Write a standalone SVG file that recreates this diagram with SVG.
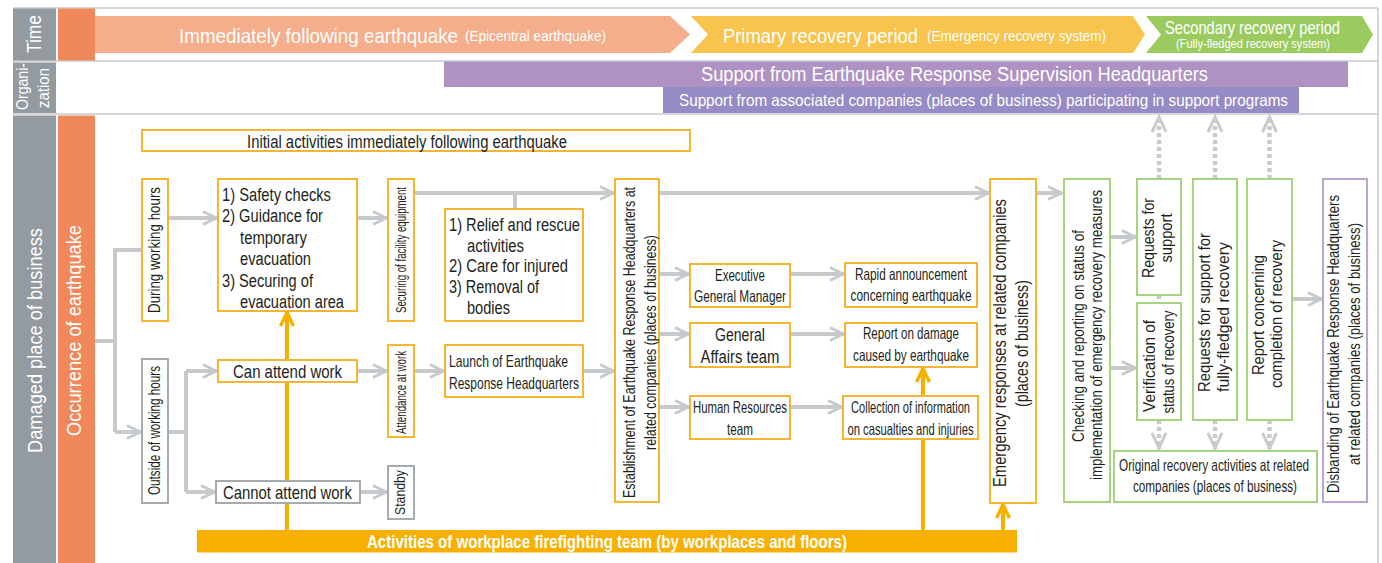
<svg xmlns="http://www.w3.org/2000/svg" width="1382" height="563" viewBox="0 0 1382 563">
<defs>
<style>
text{font-family:"Liberation Sans Narrow","Liberation Sans",Arial,sans-serif;fill:#231F20}
.w{fill:#fff}
.m{text-anchor:middle}
.bo{fill:#fff;stroke:#F6B634;stroke-width:2}
.bg{fill:#fff;stroke:#A8D37F;stroke-width:2}
.bx{fill:#fff;stroke:#A6ABAF;stroke-width:2}
.bp{fill:#fff;stroke:#BBA5D1;stroke-width:2}
.cg{fill:none;stroke:#C6CACD;stroke-width:4}
.ca{marker-end:url(#ag)}
.co{fill:none;stroke:#F7B000;stroke-width:4;marker-end:url(#ao)}
.cd{fill:none;stroke:#C8CCCF;stroke-width:4.5;stroke-dasharray:4 3}
.cda{marker-end:url(#ad)}
.frame{stroke:#C8CCCF;stroke-width:1.5;fill:none}
</style>
<marker id="ag" markerUnits="userSpaceOnUse" markerWidth="20" markerHeight="20" viewBox="-17 -10 20 20" refX="0" refY="0" orient="auto"><path d="M-14,-6.5L-0.8,0L-14,6.5" fill="none" stroke="#C6CACD" stroke-width="3"/></marker>
<marker id="ao" markerUnits="userSpaceOnUse" markerWidth="20" markerHeight="20" viewBox="-17 -10 20 20" refX="0" refY="0" orient="auto"><path d="M-14,-6.5L-0.8,0L-14,6.5" fill="none" stroke="#F7B000" stroke-width="3.5"/></marker>
<marker id="ad" markerUnits="userSpaceOnUse" markerWidth="22" markerHeight="22" viewBox="-19 -11 22 22" refX="0" refY="0" orient="auto"><path d="M-16,-7L-0.8,0L-16,7" fill="none" stroke="#C8CCCF" stroke-width="3"/></marker>
</defs>
<rect width="1382" height="563" fill="#fff"/>
<g id="frame">
<path class="frame" d="M13,8 H1378 M13,61 H1378 M13,114 H1378 M1378,8 V563"/>
</g>
<g id="time-row">
<rect x="13" y="8.5" width="43" height="52" fill="#939AA0"/>
<text class="w m" transform="translate(41,34) rotate(-90)" font-size="20" textLength="38" lengthAdjust="spacingAndGlyphs">Time</text>
<rect x="58" y="8.5" width="37" height="52" fill="#F0885B"/>
<polygon points="95,16 670,16 690,34.5 670,53 95,53" fill="#F5AE8B"/>
<text class="w"><tspan x="179" y="42.5" font-size="21" textLength="279" lengthAdjust="spacingAndGlyphs">Immediately following earthquake</tspan><tspan x="465" y="41" font-size="14" textLength="141" lengthAdjust="spacingAndGlyphs">(Epicentral earthquake)</tspan></text>
<polygon points="691,16 1133,16 1145,34.5 1133,53 691,53 708,34.5" fill="#F8C44D"/>
<text class="w"><tspan x="723" y="42.5" font-size="20" textLength="195" lengthAdjust="spacingAndGlyphs">Primary recovery period</tspan><tspan x="927" y="41" font-size="14" textLength="179" lengthAdjust="spacingAndGlyphs">(Emergency recovery system)</tspan></text>
<polygon points="1146,16 1362,16 1373,34.5 1362,53 1146,53 1161,34.5" fill="#9BCB5F"/>
<text class="w" x="1165" y="33.5" font-size="17.5" textLength="175" lengthAdjust="spacingAndGlyphs">Secondary recovery period</text>
<text class="w" x="1176" y="47.5" font-size="12" textLength="154" lengthAdjust="spacingAndGlyphs">(Fully-fledged recovery system)</text>
</g>
<g id="org-row">
<rect x="13" y="62.5" width="43" height="50.5" fill="#939AA0"/>
<text class="w m" transform="translate(28,86.5) rotate(-90)" font-size="16.5" textLength="47" lengthAdjust="spacingAndGlyphs">Organi-</text>
<text class="w m" transform="translate(49,88) rotate(-90)" font-size="16.5" textLength="40" lengthAdjust="spacingAndGlyphs">zation</text>
<rect x="444" y="61.5" width="904" height="25.5" fill="#AE92C3"/>
<text class="w" x="701" y="80.5" font-size="19.5" textLength="507" lengthAdjust="spacingAndGlyphs">Support from Earthquake Response Supervision Headquarters</text>
<rect x="663" y="87" width="636" height="26" fill="#968BC5"/>
<text class="w" x="679" y="105.5" font-size="16.5" textLength="609" lengthAdjust="spacingAndGlyphs">Support from associated companies (places of business) participating in support programs</text>
</g>
<g id="main-row-labels">
<rect x="13" y="115.5" width="43" height="448" fill="#939AA0"/>
<text class="w m" transform="translate(41.5,340.5) rotate(-90)" font-size="21" textLength="225" lengthAdjust="spacingAndGlyphs">Damaged place of business</text>
<rect x="58" y="115.5" width="37" height="448" fill="#F0885B"/>
<text class="w m" transform="translate(81,330.5) rotate(-90)" font-size="20.5" textLength="211" lengthAdjust="spacingAndGlyphs">Occurrence of earthquake</text>
</g>
<g id="connectors">
<path class="cg" d="M95,341 H115 M142,250 H115 V432"/>
<path class="cg ca" d="M115,432 H141"/>
<path class="cg ca" d="M168,218 H217"/>
<path class="cg ca" d="M357,218 H387"/>
<path class="cg ca" d="M414,193 H614"/>
<path class="cg" d="M515,193 V209"/>
<path class="cg ca" d="M659,193 H989"/>
<path class="cg ca" d="M1036,193 H1062"/>
<path class="cg" d="M168,432 H186 M186,371 V492"/>
<path class="cg ca" d="M186,371 H217"/>
<path class="cg ca" d="M186,492 H215"/>
<path class="cg ca" d="M357,371 H387"/>
<path class="cg ca" d="M360,492 H387"/>
<path class="cg ca" d="M414,371 H444"/>
<path class="cg ca" d="M583,371 H614"/>
<path class="cg ca" d="M659,274 H689"/>
<path class="cg ca" d="M659,334 H689"/>
<path class="cg ca" d="M659,407 H689"/>
<path class="cg ca" d="M790,274 H844"/>
<path class="cg ca" d="M790,334 H844"/>
<path class="cg ca" d="M790,407 H842"/>
<path class="cg ca" d="M1110,237 H1136"/>
<path class="cg ca" d="M1110,368 H1136"/>
<path class="cg ca" d="M1292,299 H1322"/>
<path class="cd" d="M1159,295 V303"/>
<path class="cd cda" d="M1159,179 V116"/>
<path class="cd cda" d="M1215,179 V116"/>
<path class="cd cda" d="M1269.5,179 V116"/>
<path class="cd cda" d="M1159,420 V449"/>
<path class="cd cda" d="M1215,420 V449"/>
<path class="cd cda" d="M1269.5,420 V449"/>
<path class="co" d="M287,530 V312"/>
<path class="co" d="M923,530 V368"/>
<path class="co" d="M1003,530 V504"/>
</g>
<g id="n-initial">
<rect class="bo" x="142" y="130" width="548" height="21"/>
<text x="247" y="147.5" font-size="17.5" textLength="320" lengthAdjust="spacingAndGlyphs">Initial activities immediately following earthquake</text>
</g>
<g id="n-during">
<rect class="bo" x="142" y="179" width="26" height="142"/>
<text class="m" transform="translate(160,250) rotate(-90)" font-size="16" textLength="126" lengthAdjust="spacingAndGlyphs">During working hours</text>
</g>
<g id="n-safety">
<rect class="bo" x="218" y="179" width="139" height="132"/>
<text x="222" y="200.7" font-size="18" textLength="109" lengthAdjust="spacingAndGlyphs">1) Safety checks</text>
<text x="222" y="222.2" font-size="18" textLength="101" lengthAdjust="spacingAndGlyphs">2) Guidance for</text>
<text x="240" y="243.7" font-size="18" textLength="67" lengthAdjust="spacingAndGlyphs">temporary</text>
<text x="240" y="265.2" font-size="18" textLength="71" lengthAdjust="spacingAndGlyphs">evacuation</text>
<text x="222" y="286.7" font-size="18" textLength="91" lengthAdjust="spacingAndGlyphs">3) Securing of</text>
<text x="240" y="308" font-size="18" textLength="104" lengthAdjust="spacingAndGlyphs">evacuation area</text>
</g>
<g id="n-securing">
<rect class="bo" x="388" y="179" width="26" height="142"/>
<text class="m" transform="translate(405.5,250) rotate(-90)" font-size="14" textLength="126" lengthAdjust="spacingAndGlyphs">Securing of facility equipment</text>
</g>
<g id="n-relief">
<rect class="bo" x="445" y="209" width="138" height="112"/>
<text x="449" y="230.7" font-size="18" textLength="131" lengthAdjust="spacingAndGlyphs">1) Relief and rescue</text>
<text x="467" y="251.5" font-size="18" textLength="57" lengthAdjust="spacingAndGlyphs">activities</text>
<text x="449" y="272.3" font-size="18" textLength="119" lengthAdjust="spacingAndGlyphs">2) Care for injured</text>
<text x="449" y="293.1" font-size="18" textLength="90" lengthAdjust="spacingAndGlyphs">3) Removal of</text>
<text x="467" y="313.9" font-size="18" textLength="43" lengthAdjust="spacingAndGlyphs">bodies</text>
</g>
<g id="n-establish">
<rect class="bo" x="615" y="179" width="44" height="323"/>
<text class="m" transform="translate(635,342.5) rotate(-90)" font-size="17" textLength="311" lengthAdjust="spacingAndGlyphs">Establishment of Earthquake Response Headquarters at</text>
<text class="m" transform="translate(655.5,342.5) rotate(-90)" font-size="17" textLength="215" lengthAdjust="spacingAndGlyphs">related companies (places of business)</text>
</g>
<g id="n-exec">
<rect class="bo" x="690" y="264" width="100" height="43"/>
<text class="m" x="740" y="281" font-size="16.5" textLength="50" lengthAdjust="spacingAndGlyphs">Executive</text>
<text class="m" x="740" y="301.5" font-size="16.5" textLength="92" lengthAdjust="spacingAndGlyphs">General Manager</text>
</g>
<g id="n-general">
<rect class="bo" x="690" y="323" width="100" height="44"/>
<text class="m" x="740" y="341" font-size="17.5" textLength="50" lengthAdjust="spacingAndGlyphs">General</text>
<text class="m" x="740" y="362.5" font-size="17.5" textLength="79" lengthAdjust="spacingAndGlyphs">Affairs team</text>
</g>
<g id="n-hr">
<rect class="bo" x="690" y="396" width="100" height="43"/>
<text class="m" x="740" y="413" font-size="16.5" textLength="94" lengthAdjust="spacingAndGlyphs">Human Resources</text>
<text class="m" x="740" y="434.5" font-size="16.5" textLength="26" lengthAdjust="spacingAndGlyphs">team</text>
</g>
<g id="n-rapid">
<rect class="bo" x="845" y="263" width="132" height="44"/>
<text class="m" x="911" y="280" font-size="16.5" textLength="112" lengthAdjust="spacingAndGlyphs">Rapid announcement</text>
<text class="m" x="911" y="301" font-size="16.5" textLength="121" lengthAdjust="spacingAndGlyphs">concerning earthquake</text>
</g>
<g id="n-report">
<rect class="bo" x="845" y="323" width="132" height="44"/>
<text class="m" x="911" y="339" font-size="16.5" textLength="96" lengthAdjust="spacingAndGlyphs">Report on damage</text>
<text class="m" x="911" y="361" font-size="16.5" textLength="116" lengthAdjust="spacingAndGlyphs">caused by earthquake</text>
</g>
<g id="n-collection">
<rect class="bo" x="843" y="396" width="135" height="43"/>
<text class="m" x="910.5" y="413" font-size="16.5" textLength="119" lengthAdjust="spacingAndGlyphs">Collection of information</text>
<text class="m" x="910.5" y="434.5" font-size="16.5" textLength="126" lengthAdjust="spacingAndGlyphs">on casualties and injuries</text>
</g>
<g id="n-emergency">
<rect class="bo" x="990" y="179" width="46" height="324"/>
<text class="m" transform="translate(1006,343) rotate(-90)" font-size="18" textLength="288" lengthAdjust="spacingAndGlyphs">Emergency responses at related companies</text>
<text class="m" transform="translate(1027.5,343.5) rotate(-90)" font-size="18" textLength="127" lengthAdjust="spacingAndGlyphs">(places of business)</text>
</g>
<g id="n-checking">
<rect class="bg" x="1064" y="179" width="46" height="323"/>
<text class="m" transform="translate(1083.5,336) rotate(-90)" font-size="16" textLength="212" lengthAdjust="spacingAndGlyphs">Checking and reporting on status of</text>
<text class="m" transform="translate(1102,335) rotate(-90)" font-size="16" textLength="290" lengthAdjust="spacingAndGlyphs">implementation of emergency recovery measures</text>
</g>
<g id="n-requests">
<rect class="bg" x="1137" y="179" width="44" height="116"/>
<text class="m" transform="translate(1154,238) rotate(-90)" font-size="16.5" textLength="80" lengthAdjust="spacingAndGlyphs">Requests for</text>
<text class="m" transform="translate(1172,238) rotate(-90)" font-size="16.5" textLength="49" lengthAdjust="spacingAndGlyphs">support</text>
</g>
<g id="n-verification">
<rect class="bg" x="1137" y="303" width="44" height="117"/>
<text class="m" transform="translate(1155,366) rotate(-90)" font-size="16.5" textLength="92" lengthAdjust="spacingAndGlyphs">Verification of</text>
<text class="m" transform="translate(1174,362) rotate(-90)" font-size="16.5" textLength="103" lengthAdjust="spacingAndGlyphs">status of recovery</text>
</g>
<g id="n-fully">
<rect class="bg" x="1193" y="179" width="44" height="241"/>
<text class="m" transform="translate(1210,312.5) rotate(-90)" font-size="16.5" textLength="159" lengthAdjust="spacingAndGlyphs">Requests for support for</text>
<text class="m" transform="translate(1229,317) rotate(-90)" font-size="16.5" textLength="150" lengthAdjust="spacingAndGlyphs">fully-fledged recovery</text>
</g>
<g id="n-completion">
<rect class="bg" x="1247" y="179" width="45" height="241"/>
<text class="m" transform="translate(1264,315) rotate(-90)" font-size="16.5" textLength="120" lengthAdjust="spacingAndGlyphs">Report concerning</text>
<text class="m" transform="translate(1282,314) rotate(-90)" font-size="16.5" textLength="148" lengthAdjust="spacingAndGlyphs">completion of recovery</text>
</g>
<g id="n-original">
<rect class="bg" x="1114" y="451" width="203" height="51"/>
<text class="m" x="1214" y="470.5" font-size="16.5" textLength="190" lengthAdjust="spacingAndGlyphs">Original recovery activities at related</text>
<text class="m" x="1215" y="492" font-size="16.5" textLength="164" lengthAdjust="spacingAndGlyphs">companies (places of business)</text>
</g>
<g id="n-disbanding">
<rect class="bp" x="1323" y="179" width="44" height="323"/>
<text class="m" transform="translate(1339,344) rotate(-90)" font-size="17" textLength="298" lengthAdjust="spacingAndGlyphs">Disbanding of Earthquake Response Headquarters</text>
<text class="m" transform="translate(1360,344) rotate(-90)" font-size="17" textLength="242" lengthAdjust="spacingAndGlyphs">at related companies (places of business)</text>
</g>
<g id="n-outside">
<rect class="bx" x="142" y="359" width="26" height="144"/>
<text class="m" transform="translate(160,430.5) rotate(-90)" font-size="16" textLength="129" lengthAdjust="spacingAndGlyphs">Outside of working hours</text>
</g>
<g id="n-can">
<rect class="bo" x="218" y="360" width="139" height="22"/>
<text class="m" x="287.5" y="377.5" font-size="18.5" textLength="109" lengthAdjust="spacingAndGlyphs">Can attend work</text>
</g>
<g id="n-attendance">
<rect class="bo" x="388" y="345" width="26" height="92"/>
<text class="m" transform="translate(405.5,392.5) rotate(-90)" font-size="14" textLength="83" lengthAdjust="spacingAndGlyphs">Attendance at work</text>
</g>
<g id="n-cannot">
<rect class="bx" x="216" y="481" width="144" height="22"/>
<text class="m" x="287.5" y="498.5" font-size="18.5" textLength="129" lengthAdjust="spacingAndGlyphs">Cannot attend work</text>
</g>
<g id="n-standby">
<rect class="bx" x="388" y="466" width="26" height="53"/>
<text class="m" transform="translate(405,492.5) rotate(-90)" font-size="15" textLength="45" lengthAdjust="spacingAndGlyphs">Standby</text>
</g>
<g id="n-launch">
<rect class="bo" x="445" y="345" width="138" height="52"/>
<text x="449" y="367" font-size="17" textLength="119" lengthAdjust="spacingAndGlyphs">Launch of Earthquake</text>
<text x="449" y="389" font-size="17" textLength="130" lengthAdjust="spacingAndGlyphs">Response Headquarters</text>
</g>
<g id="n-firefighting">
<rect x="197" y="530" width="820" height="22.5" fill="#F7B000"/>
<text class="w m" x="607" y="548" font-size="18.5" font-weight="bold" textLength="480" lengthAdjust="spacingAndGlyphs">Activities of workplace firefighting team (by workplaces and floors)</text>
</g>
</svg>
